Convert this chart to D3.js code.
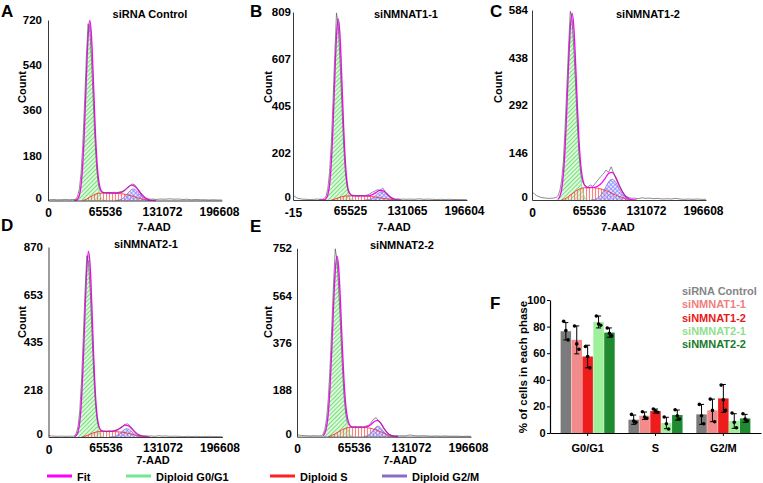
<!DOCTYPE html>
<html><head><meta charset="utf-8">
<script src="https://cdn.jsdelivr.net/npm/d3@7"></script>
<style>
body{margin:0;background:#fff;}
svg{display:block;font-family:"Liberation Sans",Arial,Helvetica,sans-serif;font-weight:bold;}
</style></head><body>
<svg id="chart" width="763" height="483"></svg>
<script>
// ===== DATA (7-AAD channel in thousands, counts) =====
const rawX = [0,5,10,15,20,25,28,30,32,34,36,38,40,42,44,46,48,50,52,54,56,58,60,62,64,67,70,73,76,79,82,85,88,91,94,97,100,103,106,109,112,115,118,121,124,127,130,135,140,145,150,155,160,165,170,175,180,185,190,195,200];
const rawA = [2,4,3,3,4,3,4, 4,5,17,45,108,224,384,565,705,690,560,400,243,126,64,39,33,32, 30,32,31,33,31,34,36,41,50,58,66,62,48,34,22,12,7,5,6,4,5,6, 5,7,5,6,4,5,3,4,3,3,2,3,2,2];
const rawB = [20,8,4,3,2,3,4, 3,4,3,7,17,48,118,242,425,625,805,750,605,425,250,125,60,31, 22,20,19,18,20,18,21,26,33,38,44,40,52,36,22,12,6,4,5,3,4,3, 4,3,5,3,4,3,2,3,2,3,2,2,2,1];
const rawC = [25,14,8,6,5,6,8, 14,28,59,115,220,345,470,580,555,470,360,240,142,84,56,47,43,40, 46,42,52,62,72,80,92,85,102,82,62,46,30,18,10,7,5,6,4,5,7,5, 6,4,5,3,4,3,5,3,2,3,2,3,2,2];
const rawD = [6,4,3,4,3,4,3, 5,17,50,122,261,456,665,830,800,672,472,285,150,76,43,31,28,27, 25,28,26,30,33,40,48,58,60,50,36,22,12,8,5,6,4,5,3,4,6,4, 5,3,4,3,2,3,2,3,2,2,3,2,2,1];
const rawE = [8,5,4,3,4,3,4, 10,29,71,152,278,440,610,750,705,590,440,288,166,93,58,44,39,38, 40,37,39,38,42,45,55,70,76,62,48,32,18,9,5,4,5,3,4,3,5,7, 4,3,4,3,2,3,2,3,2,2,2,1,2,1];

const fitX = [30,32,34,36,38,40,42,44,46,48,50,52,54,56,58,60,62,64,68,72,76,80,84,88,92,96,100,104,108,112,116,120,124,128];
const fitA = [1,1,6,20,60,145,292,480,648,718,656,496,314,172,88,49,35,31, 30,30,29,30,32,40,53,61,56,40,21,9,2,0.5,0,0];
const fitB = [0.5,0.5,0.5,1,6,22,65,159,317,523,705,779,709,533,332,176,82,39, 19,18,18,17.7,17.5,18.7,24,34,42,39,27,13,4.3,0.6,0,0];
const fitC = [3,11,31,76,158,278,414,527,574,535,430,300,187,110,68,48,41,38, 38.5,39,43,52,66,81.5,85,71,47,25,10,3,0.4,0,0,0];
const fitD = [1.5,7,24,71,173,347,570,768,850,775,583,365,195,95,49,32,27,26, 26,26,28,34,45,54,51,36,19.4,8.7,3.6,1,0,0,0,0];
const fitE = [4,14,39,95,199,348,521,663,721,671,536,371,227,129,75,51,41,38, 38,38,37.5,39,46,58,65,56,33,15,5.4,1,0,0,0,0];

const g1A = [[32,1],[34,6],[36,20],[38,60],[40,145],[42,290],[44,475],[46,639],[48,705],[50,639],[52,475],[54,290],[56,145],[58,60],[60,20],[62,6],[64,1],[66,0]];
const sA  = [[40,0],[44,5],[48,13],[52,21],[56,27],[60,29],[66,30],[72,30],[78,29],[84,27],[90,24],[96,19],[102,12],[108,6],[114,2],[118,0]];
const g2A = [[78,0.4],[82,2.2],[86,8.4],[90,21.6],[94,38],[98,46],[102,38],[106,21.6],[110,8.4],[114,2.2],[118,0.4]];

const g1B = [[36,1],[38,6],[40,22],[42,65],[44,159],[46,316],[48,519],[50,698],[52,770],[54,698],[56,519],[58,316],[60,159],[62,65],[64,22],[66,6],[68,1],[70,0]];
const sB  = [[44,0],[48,4],[52,9],[56,14],[60,17],[66,18],[72,18],[78,18],[84,17],[90,15],[96,12],[102,8],[108,5],[114,2],[120,0]];
const g2B = [[82,0.1],[86,1],[90,4.9],[94,14.8],[98,28.8],[102,36],[106,28.8],[110,14.8],[114,4.9],[118,1],[122,0.1]];

const g1C = [[28,0],[30,3],[32,11],[34,31],[36,75],[38,154],[40,270],[42,403],[44,512],[46,555],[48,512],[50,403],[52,270],[54,154],[56,75],[58,31],[60,11],[62,3],[64,0]];
const sC  = [[34,0],[38,4],[42,11],[46,19],[50,27],[54,33],[58,37],[64,38],[70,38],[76,36],[82,32],[88,26],[94,18],[100,11],[106,5],[112,1],[116,0]];
const g2C = [[68,0.4],[72,1.8],[76,6.6],[80,17.8],[84,36.2],[88,55.5],[92,64],[96,55.5],[100,36.2],[104,17.8],[108,6.6],[112,1.8],[116,0.4]];

const g1D = [[30,1.5],[32,7],[34,24],[36,71],[38,173],[40,345],[42,566],[44,761],[46,840],[48,761],[50,566],[52,345],[54,173],[56,71],[58,24],[60,7],[62,1.5],[64,0]];
const sD  = [[38,0],[42,4],[46,10],[50,17],[54,22],[58,25],[64,26],[70,26],[76,25],[82,23],[88,20],[94,15],[100,9],[106,4],[112,1],[116,0]];
const g2D = [[70,0.1],[74,1.1],[78,5.1],[82,15.6],[86,30.4],[90,38],[94,30.4],[98,15.6],[102,5.1],[106,1.1],[110,0.1]];

const g1E = [[28,0],[30,4],[32,14],[34,39],[36,95],[38,196],[40,343],[42,512],[44,651],[46,705],[48,651],[50,512],[52,343],[54,196],[56,95],[58,39],[60,14],[62,4],[64,0]];
const sE  = [[36,0],[40,5],[44,12],[48,20],[52,28],[56,34],[60,37],[66,38],[72,38],[78,37],[84,34],[90,28],[96,20],[102,11],[108,4],[112,1],[116,0]];
const g2E = [[77,0.6],[81,3.9],[85,14.6],[89,32.3],[93,42],[97,32.3],[101,14.6],[105,3.9],[109,0.6]];

const titles = ["siRNA Control","siNMNAT1-1","siNMNAT1-2","siNMNAT2-1","siNMNAT2-2"];
const yTicksA = [0,180,360,540,720];
const yTicksB = [0,202,405,607,809];
const yTicksC = [0,146,292,438,584];
const yTicksD = [0,218,435,653,870];
const yTicksE = [0,188,376,564,752];
const xTicksStd = [0,65536,131072,196608];
const xTicksB = [-15,65525,131065,196604];

const legendLabels = ["Fit","Diploid G0/G1","Diploid S","Diploid G2/M"];

// Panel F
const phases = ["G0/G1","S","G2/M"];
const groups = ["siRNA Control","siNMNAT1-1","siNMNAT1-2","siNMNAT2-1","siNMNAT2-2"];
const meanG1 = [76.5,70,57.5,83.5,75.5];
const meanS  = [10,13,16.5,7.5,13.5];
const meanG2 = [14,17,26,9,11];
const sdG1 = [6.5,10.5,8.5,4.5,3.5];
const sdS  = [3.5,2.8,1.5,4.3,3.8];
const sdG2 = [7.5,8.5,10.5,5.5,3];
const repG1 = [[84,77,70],[80.5,67,63],[65,57.5,49],[88,82,81],[79,75,73]];
const repS  = [[14,9,8],[16,12,11],[18,16.5,15.5],[12,7,3],[17.5,13,10.5]];
const repG2 = [[21.5,13,7],[25.5,17,8.5],[36,25,17],[15,8,4],[14.5,10.5,9]];
const yTicksF = [0,20,40,60,80,100];

// ===== STYLE / LAYOUT =====
const groupColors = ["#7b7b7b","#f28b8b","#ee1c1c","#9ef09a","#1f8a2f"];
const legendTextColors = ["#858585","#ee8080","#e81818","#8fe08c","#1a7a2a"];
const fitColor = "#ff00ff", g1Color = "#70e890", sColor = "#ff2020", g2Color = "#8a6cc8", rawColor = "#555555";
const pxPerK = 57 / 65.536;
const font = 11;

const svg = d3.select("#chart");
const defs = svg.append("defs");
function pattern(id, bg, stroke, sw, rot, cross){
  const p = defs.append("pattern").attr("id", id).attr("patternUnits","userSpaceOnUse")
    .attr("width",3).attr("height",3);
  if (rot) p.attr("patternTransform", `rotate(${rot})`);
  p.append("rect").attr("width",3).attr("height",3).attr("fill",bg);
  p.append("line").attr("x1",1.5).attr("y1",0).attr("x2",1.5).attr("y2",3).attr("stroke",stroke).attr("stroke-width",sw);
  if (cross) p.append("line").attr("x1",0).attr("y1",1.5).attr("x2",3).attr("y2",1.5).attr("stroke",stroke).attr("stroke-width",sw);
}
pattern("hG1","rgba(205,248,205,0.7)","#62d862",0.8,45,false);
pattern("hS","rgba(255,230,230,0.35)","#ff6464",0.8,0,false);
pattern("hG2","rgba(215,215,255,0.55)","#6f6fff",0.6,45,true);

const panels = [
 {L:"A", t:0, ox:48, oy:200.5, top:20, ymax:720, yt:yTicksA, xt:xTicksStd, xmin:0, lab:42, letter:[1,17], title:[150,18], count:[22,87], aad:[154,231], raw:rawA, fit:fitA, g1:g1A, s:sA, g2:g2A},
 {L:"B", t:1, ox:293, oy:200, top:12, ymax:809, yt:yTicksB, xt:xTicksB, xmin:-15, lab:291, letter:[250,17], title:[406,18], count:[268,87], aad:[394,231], raw:rawB, fit:fitB, g1:g1B, s:sB, g2:g2B},
 {L:"C", t:2, ox:532, oy:200, top:10, ymax:584, yt:yTicksC, xt:xTicksStd, xmin:0, lab:528, letter:[490,17], title:[648,18], count:[498,87], aad:[618,231], raw:rawC, fit:fitC, g1:g1C, s:sC, g2:g2C},
 {L:"D", t:3, ox:48.5, oy:437, top:247, ymax:870, yt:yTicksD, xt:xTicksStd, xmin:0, lab:43, letter:[1,231], title:[146,248], count:[22,322], aad:[153,464], raw:rawD, fit:fitD, g1:g1D, s:sD, g2:g2D},
 {L:"E", t:4, ox:297, oy:436.7, top:248.3, ymax:752, yt:yTicksE, xt:xTicksStd, xmin:0, lab:292, letter:[250,232], title:[402,249], count:[268,322], aad:[400,464], raw:rawE, fit:fitE, g1:g1E, s:sE, g2:g2E}
];

function trim(pts){
  let i=0; while(i<pts.length-1 && pts[i][1]<=0.3 && pts[i+1][1]<=0.3) i++;
  let j=pts.length-1; while(j>0 && pts[j][1]<=0.3 && pts[j-1][1]<=0.3) j--;
  return pts.slice(i,j+1);
}

panels.forEach(p=>{
  const g = svg.append("g");
  const xmaxK = 200;
  const x = d3.scaleLinear().domain([p.xmin/1000, xmaxK]).range([p.ox, p.ox + (xmaxK - p.xmin/1000)*pxPerK]);
  const y = d3.scaleLinear().domain([0, p.ymax]).range([p.oy, p.top]);
  const cy = v => y(Math.min(v, p.ymax));

  const area = d3.area().x(d=>x(d[0])).y0(p.oy).y1(d=>cy(d[1])).curve(d3.curveMonotoneX);
  const line = d3.line().x(d=>x(d[0])).y(d=>cy(d[1])).curve(d3.curveMonotoneX);

  g.append("path").attr("d", area(p.g1)).attr("fill","url(#hG1)");
  g.append("path").attr("d", area(p.s)).attr("fill","url(#hS)");
  g.append("path").attr("d", area(p.g2)).attr("fill","url(#hG2)");
  g.append("path").attr("d", line(p.g1)).attr("fill","none").attr("stroke",g1Color).attr("stroke-width",0.8);
  g.append("path").attr("d", line(p.s)).attr("fill","none").attr("stroke",sColor).attr("stroke-width",0.8);
  g.append("path").attr("d", line(p.g2)).attr("fill","none").attr("stroke",g2Color).attr("stroke-width",0.8);

  const fitPts = trim(fitX.map((k,i)=>[k, p.fit[i]]));
  g.append("path").attr("d", line(fitPts)).attr("fill","none").attr("stroke",fitColor).attr("stroke-width",1.3);

  const rawPts = rawX.map((k,i)=>[k, p.raw[i]]);
  g.append("path").attr("d", d3.line().x(d=>x(d[0])).y(d=>cy(d[1]))(rawPts))
    .attr("fill","none").attr("stroke",rawColor).attr("stroke-width",0.8).attr("stroke-opacity",0.85);

  // axes
  const ya = d3.axisLeft(y).tickValues(p.yt).tickSize(0).tickSizeOuter(0).tickPadding(p.ox - p.lab);
  const yg = g.append("g").attr("transform",`translate(${p.ox},0)`).call(ya);
  const xa = d3.axisBottom(x).tickValues(p.xt.map(v=>v/1000)).tickFormat((d,i)=>p.xt[i]).tickSize(0).tickSizeOuter(0).tickPadding(6.5);
  const xg = g.append("g").attr("transform",`translate(0,${p.oy})`).call(xa);
  [yg,xg].forEach(a=>{
    a.select(".domain").attr("stroke","#3a3a3a").attr("stroke-width",1);
    a.selectAll("text").attr("font-weight","bold").attr("font-family",null).attr("fill","#000");
  });
  yg.selectAll("text").attr("font-size",11.5);
  xg.selectAll("text").attr("font-size",12);
  // the zero count label sits just above the first x tick label
  yg.selectAll(".tick").filter(d=>d===0).select("text").attr("dy","0.05em");
  xg.selectAll(".tick").filter((d,i)=>i===0).select("text").attr("dy","0.85em");

  g.append("text").attr("x",p.letter[0]).attr("y",p.letter[1]).attr("font-size",17).text(p.L);
  g.append("text").attr("x",p.title[0]).attr("y",p.title[1]).attr("text-anchor","middle").attr("font-size",font).text(titles[p.t]);
  g.append("text").attr("x",p.aad[0]).attr("y",p.aad[1]).attr("text-anchor","middle").attr("font-size",font).text("7-AAD");
  g.append("text").attr("transform",`translate(${p.count[0]},${p.count[1]}) rotate(-90)`)
    .attr("text-anchor","middle").attr("dominant-baseline","central").attr("font-size",font).text("Count");
});

// bottom legend
const legColors = [fitColor, g1Color, sColor, g2Color];
const legX = [47,126,270,382];
const lg = svg.append("g");
legendLabels.forEach((t,i)=>{
  lg.append("line").attr("x1",legX[i]).attr("x2",legX[i]+25).attr("y1",476).attr("y2",476)
    .attr("stroke",legColors[i]).attr("stroke-width",3);
  lg.append("text").attr("x",legX[i]+30).attr("y",481).attr("font-size",font).text(t);
});

// ===== Panel F =====
const F = svg.append("g");
F.append("text").attr("x",490).attr("y",309).attr("font-size",17).text("F");
const fy = d3.scaleLinear().domain([0,100]).range([433,300]);
const fx = d3.scaleBand().domain(phases).range([550,761]).paddingInner(0.19).paddingOuter(0.15);
const fsub = d3.scaleBand().domain(groups).range([0, fx.bandwidth()]).padding(0.04);
const means = [meanG1, meanS, meanG2], sds = [sdG1, sdS, sdG2], reps = [repG1, repS, repG2];

phases.forEach((ph,pi)=>{
  groups.forEach((gr,gi)=>{
    const bx = fx(ph) + fsub(gr), bw = fsub.bandwidth(), cx = bx + bw/2;
    const m = means[pi][gi], s = sds[pi][gi];
    F.append("rect").attr("x",bx).attr("y",fy(m)).attr("width",bw).attr("height",fy(0)-fy(m))
      .attr("fill",groupColors[gi]);
    F.append("line").attr("x1",cx).attr("x2",cx).attr("y1",fy(m+s)).attr("y2",fy(Math.max(0,m-s))).attr("stroke","#000").attr("stroke-width",1);
    F.append("line").attr("x1",cx-2.5).attr("x2",cx+2.5).attr("y1",fy(m+s)).attr("y2",fy(m+s)).attr("stroke","#000").attr("stroke-width",1);
    F.append("line").attr("x1",cx-2.5).attr("x2",cx+2.5).attr("y1",fy(Math.max(0,m-s))).attr("y2",fy(Math.max(0,m-s))).attr("stroke","#000").attr("stroke-width",1);
    reps[pi][gi].forEach((v,ri)=>{
      F.append("circle").attr("cx",cx + (ri-1)*2.2).attr("cy",fy(v)).attr("r",1.8).attr("fill","#000");
    });
  });
});

const fya = d3.axisLeft(fy).tickValues(yTicksF).tickSize(3).tickSizeOuter(0).tickPadding(1.5);
const fyg = F.append("g").attr("transform","translate(550,0)").call(fya);
const fxa = d3.axisBottom(fx).tickSize(3).tickSizeOuter(0).tickPadding(8);
const fxg = F.append("g").attr("transform","translate(0,433)").call(fxa);
[fyg,fxg].forEach(a=>{
  a.select(".domain").attr("stroke","#000").attr("stroke-width",1.2);
  a.selectAll(".tick line").attr("stroke","#000");
  a.selectAll("text").attr("font-size",font).attr("font-weight","bold").attr("font-family",null).attr("fill","#000");
});
F.append("text").attr("transform","translate(523,367) rotate(-90)").attr("text-anchor","middle")
  .attr("dominant-baseline","central").attr("font-size",11.5).text("% of cells in each phase");

groups.forEach((gr,i)=>{
  F.append("text").attr("x",682).attr("y",295 + i*13.3).attr("font-size",font)
    .attr("fill",legendTextColors[i]).text(gr);
});
</script>
</body></html>
